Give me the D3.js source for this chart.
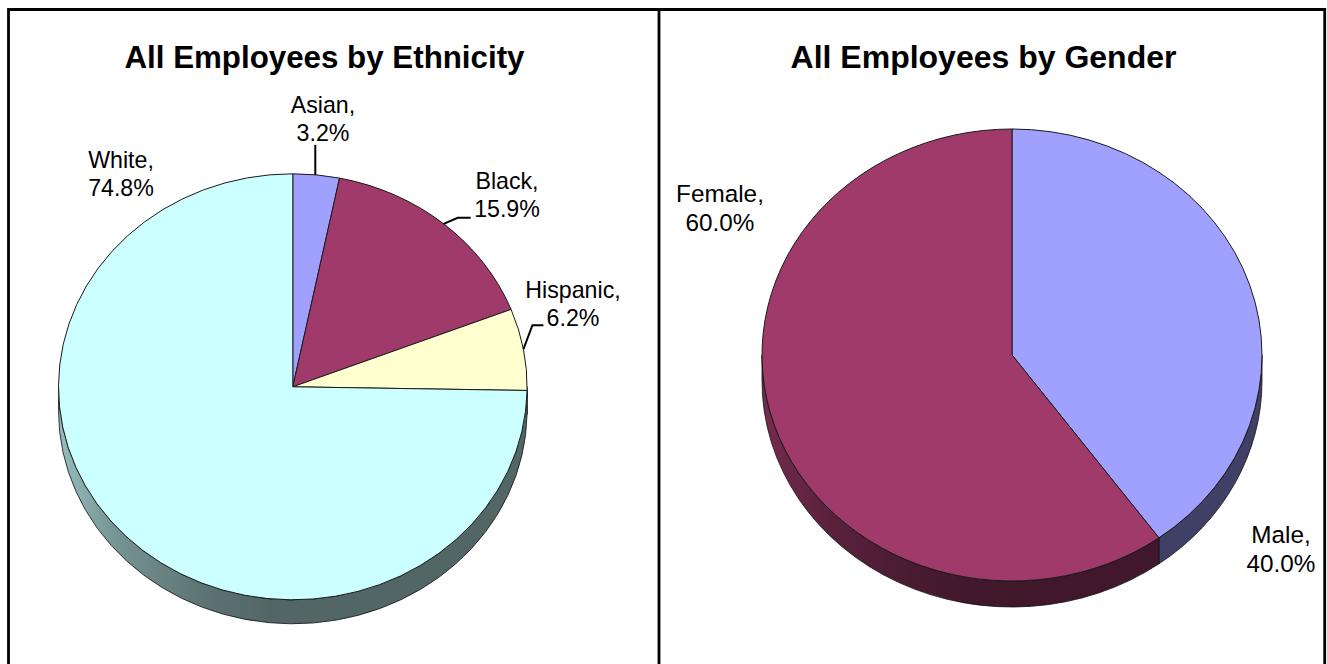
<!DOCTYPE html>
<html><head><meta charset="utf-8">
<script src="https://cdnjs.cloudflare.com/ajax/libs/d3/7.8.5/d3.min.js"></script>
<style>html,body{margin:0;padding:0;background:#fff;overflow:hidden}svg{display:block}text{font-family:"Liberation Sans",Arial,sans-serif;fill:#000}</style>
</head><body><svg id="c" width="1327" height="664"></svg>
<script>
const ethnicityLabels = ["Asian", "Black", "Hispanic", "White"];
const ethnicityValues = [3.2, 15.9, 6.2, 74.8];
const ethnicityColors = ["#a0a0ff", "#9f3a6b", "#ffffd0", "#ccffff"];
const genderLabels = ["Male", "Female"];
const genderValues = [40.0, 60.0];
const genderColors = ["#a0a0ff", "#9f3a6b"];
const titles = ["All Employees by Ethnicity", "All Employees by Gender"];

const svg = d3.select("#c");
const defs = svg.append("defs");

function drawPie(o) {
  const {labels, values, colors, cx, cy, rx, ry, depth, title, titleX, titlePx, labelPx, linePx, place, id} = o;
  const g = svg.append("g");
  const pie = d3.pie().sort(null).value(d => d)(values);
  const arcGen = d3.arc().innerRadius(0).outerRadius(rx);
  const pt = a => [cx + rx * Math.sin(a), cy - ry * Math.cos(a)];

  // sides: only the part of each slice facing the viewer
  pie.forEach((s, i) => {
    const a0 = Math.max(s.startAngle, Math.PI / 2), a1 = Math.min(s.endAngle, Math.PI * 1.5);
    if (a1 <= a0) return;
    const c = d3.rgb(colors[i]);
    const gid = `${id}-side-${i}`;
    const gr = defs.append("linearGradient").attr("id", gid)
      .attr("gradientUnits", "userSpaceOnUse")
      .attr("x1", cx - rx).attr("x2", cx + rx).attr("y1", 0).attr("y2", 0);
    [[0, 0.74], [0.12, 0.58], [0.3, 0.46], [0.45, 0.4], [1, 0.4]].forEach(([t, f]) => {
      gr.append("stop").attr("offset", t)
        .attr("stop-color", d3.rgb(c.r * f, c.g * f, c.b * f).formatHex());
    });
    const [x0, y0] = pt(a0), [x1, y1] = pt(a1);
    const seg = `A${rx},${ry} 0 0 1 ${x1},${y1 + depth}`;
    const back = `A${rx},${ry} 0 0 0 ${x0},${y0}`;
    g.append("path").attr("d", `M${x0},${y0}L${x0},${y0 + depth}${seg}L${x1},${y1}${back}Z`)
      .attr("fill", `url(#${gid})`).attr("stroke", "#111").attr("stroke-width", 0.8);
  });

  // top faces: a circular d3.arc squashed to the ellipse
  g.selectAll("path.face").data(pie).join("path").attr("class", "face")
    .attr("d", arcGen)
    .attr("transform", `translate(${cx},${cy}) scale(1,${ry / rx})`)
    .attr("fill", (d, i) => colors[i])
    .attr("stroke", "#1a1a1a").attr("stroke-width", 1)
    .style("vector-effect", "non-scaling-stroke");

  // leaders and labels
  pie.forEach((s, i) => {
    const p = place[i];
    if (p.leader) {
      const m = pt((s.startAngle + s.endAngle) / 2);
      g.append("path").attr("d", d3.line()(p.leader(m))).attr("fill", "none").attr("stroke", "#000").attr("stroke-width", 2);
    }
    const t = g.append("text").attr("text-anchor", "middle").attr("font-size", labelPx);
    t.append("tspan").attr("x", p.x).attr("y", p.y).text(labels[i] + ",");
    t.append("tspan").attr("x", p.x).attr("y", p.y + linePx).text(d3.format(".1f")(values[i]) + "%");
  });

  g.append("text").attr("x", titleX).attr("y", 68).attr("text-anchor", "middle")
    .attr("font-size", titlePx).attr("font-weight", "bold").text(title);
}

drawPie({
  id: "eth", labels: ethnicityLabels, values: ethnicityValues, colors: ethnicityColors,
  cx: 292.8, cy: 386.8, rx: 234.3, ry: 213, depth: 24, title: titles[0], titleX: 324.5,
  titlePx: 31.3, labelPx: 23.2, linePx: 27.5,
  place: [
    {x: 323, y: 113, leader: m => [[m[0] - 1, m[1]], [m[0] - 1, m[1] - 30]]},
    {x: 507, y: 189, leader: m => [m, [m[0] + 14, m[1] - 6], [m[0] + 27, m[1] - 6]]},
    {x: 573, y: 298, leader: m => [m, [m[0] + 9, m[1] - 24], [m[0] + 20, m[1] - 24]]},
    {x: 121, y: 168}
  ]
});
drawPie({
  id: "gen", labels: genderLabels, values: genderValues, colors: genderColors,
  cx: 1012, cy: 355, rx: 250, ry: 226, depth: 26, title: titles[1], titleX: 983.5,
  titlePx: 32, labelPx: 24.3, linePx: 28.5,
  place: [{x: 1281, y: 543}, {x: 720, y: 202}]
});

// panel frame
const frame = d3.path();
frame.moveTo(8.5, 664); frame.lineTo(8.5, 9.5); frame.lineTo(1324.7, 9.5); frame.lineTo(1324.7, 664);
frame.moveTo(659, 9.5); frame.lineTo(659, 664);
svg.append("path").attr("d", frame.toString()).attr("fill", "none").attr("stroke", "#000").attr("stroke-width", 2.8);
</script></body></html>
